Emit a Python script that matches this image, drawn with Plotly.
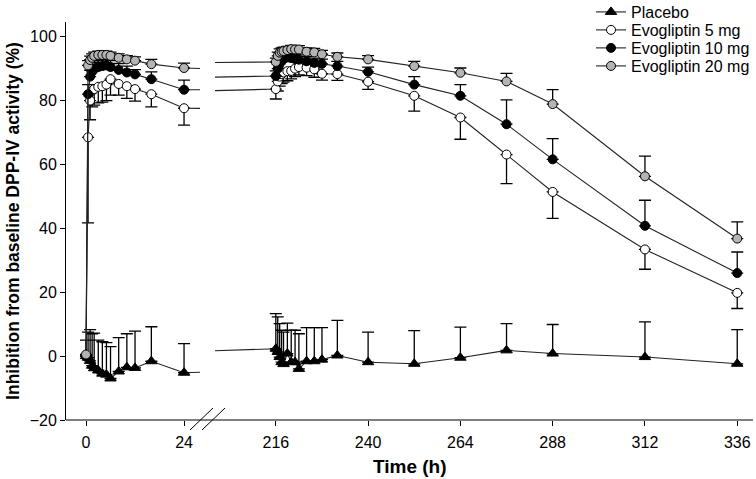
import plotly.graph_objects as go

# ---------------- data ----------------
time_day1 = [0, 0.5, 1, 1.5, 2, 3, 4, 5, 6, 8, 10, 12, 16, 24]
time_day10 = [216, 216.5, 217, 217.5, 218, 219, 220, 221, 222, 224, 226, 228,
              232, 240, 252, 264, 276, 288, 312, 336]
time_h = time_day1 + time_day10

placebo = [0, -0.5, -1.5, -3.0, -3.8, -4.5, -5.5, -5.8, -7.0, -4.8, -3.5, -3.7, -1.6, -5.2,
           2.3, 1.3, -0.3, -1.9, -2.5, 0.8, -1.9, -1.9, -4.0, -1.6, -1.6, -1.1, 0.2, -1.9,
           -2.4, -0.5, 1.8, 0.8, -0.3, -2.4]
placebo_err = [5, 8, 9.8, 10, 11, 9.5, 10, 10, 10, 10.6, 10.5, 11.5, 10.8, 9.1,
               11, 11, 10.5, 10, 10, 9.5, 10, 10, 11, 10.5, 10.5, 10, 11, 9.4,
               10.4, 9.6, 8.4, 9.1, 11, 10.7]

evo5 = [0, 68.5, 80, 83, 83.6, 84.3, 84.5, 85, 86.7, 85.2, 84.5, 83.6, 82.0, 77.6,
        83.6, 86, 87.5, 88.3, 88.8, 89.2, 89.3, 90.0, 90.5, 90.3, 89.8, 88.4, 88.3, 85.9,
        81.5, 74.7, 63.1, 51.4, 33.4, 19.8]
evo5_err = [0, 26.8, 6, 5, 5, 5, 5, 5, 5, 3.5, 3.8, 3.8, 4, 5.3,
            3.1, 3, 3, 3, 3, 3, 2.5, 2.5, 2.5, 2.5, 2.5, 2, 2, 2.4,
            4.8, 6.8, 9.1, 8.3, 6.2, 4.9]

evo10 = [0, 82, 87.5, 89, 90, 90.5, 90.8, 91, 90.5, 89.6, 88.8, 88.2, 86.7, 83.4,
         87.7, 90, 91.5, 92.5, 93, 93.5, 93.3, 93, 92.8, 92.3, 91.8, 91.5, 90.8, 89,
         85, 81.5, 72.6, 61.6, 40.8, 26.0]
evo10_err = [0, 3, 2, 2, 2, 2, 2, 2, 2, 2, 2, 1.5, 2.3, 3.0,
             1.6, 1.5, 1.5, 1.5, 1.5, 1.5, 1.5, 1.5, 1.5, 1.5, 1.5, 1.5, 1.5, 1.5,
             2.5, 3.5, 7.6, 6.5, 8.0, 6.6]

evo20 = [0.5, 91, 92.7, 93.4, 94.0, 94.3, 94.3, 94.3, 94.0, 93.4, 92.9, 92.5, 91.4, 90.2,
         92.1, 94.0, 95.0, 95.3, 95.5, 95.8, 96.1, 96.0, 96.0, 95.3, 95.1, 94.5, 93.7, 92.9,
         90.8, 88.7, 86.0, 78.9, 56.3, 36.8]
evo20_err = [0, 1.5, 1.2, 1.2, 1.2, 1.2, 1.2, 1.2, 1.2, 1.2, 1.2, 1.2, 1.5, 1.5,
             1.2, 1.2, 1.2, 1.2, 1.2, 1.2, 1.2, 1.2, 1.2, 1.2, 1.2, 1.2, 1.2, 1.2,
             1.5, 1.5, 2.5, 4.5, 6.3, 5.2]

series_names = ["Placebo", "Evogliptin 5 mg", "Evogliptin 10 mg", "Evogliptin 20 mg"]
y_ticks = [-20, 0, 20, 40, 60, 80, 100]
x1_ticks = [0, 24]
x2_ticks = [216, 240, 264, 288, 312, 336]

# ---------------- figure ----------------
FONT = "Liberation Sans, Arial, Helvetica, sans-serif"
fig = go.Figure()

styles = [
    dict(y=placebo, err=placebo_err, down=False, symbol="triangle-up", fill="black", size=10),
    dict(y=evo5, err=evo5_err, down=True, symbol="circle", fill="white", size=9),
    dict(y=evo10, err=evo10_err, down=False, symbol="circle", fill="black", size=9),
    dict(y=evo20, err=evo20_err, down=False, symbol="circle", fill="#b4b4b4", size=9),
]
legend_ids = ["legend", "legend2", "legend3", "legend4"]

for name, st, lg in zip(series_names, styles, legend_ids):
    zeros = [0] * len(st["err"])
    if st["down"]:
        ey = dict(type="data", symmetric=False, array=zeros, arrayminus=st["err"],
                  color="black", thickness=1.3, width=6)
    else:
        ey = dict(type="data", symmetric=False, array=st["err"], arrayminus=zeros,
                  color="black", thickness=1.3, width=6)
    for ax, show in (("x", True), ("x2", False)):
        fig.add_trace(go.Scatter(
            x=time_h, y=st["y"], name=name, mode="lines+markers",
            xaxis=ax, yaxis="y", showlegend=show, legend=lg,
            line=dict(color="#222222", width=1.1),
            marker=dict(symbol=st["symbol"], size=st["size"], color=st["fill"],
                        line=dict(color="black", width=1)),
            error_y=ey, cliponaxis=True, hoverinfo="skip",
        ))

D1_END = 0.195
D2_START = 0.217

axis_common = dict(showline=False, ticks="outside", ticklen=5, tickwidth=1,
                   tickcolor="black", showgrid=False, zeroline=False,
                   ticklabelstandoff=3,
                   tickfont=dict(family=FONT, size=16, color="black"))

leg_common = dict(x=0.7642, xanchor="left", yanchor="middle",
                  bgcolor="rgba(0,0,0,0)", font=dict(family=FONT, size=16, color="black"),
                  itemwidth=30)
leg_y = [1.0251, 0.9799, 0.9347, 0.8894]

fig.update_layout(
    width=756, height=479,
    margin=dict(l=66, r=3, t=22, b=59, autoexpand=False),
    plot_bgcolor="white", paper_bgcolor="white",
    font=dict(family=FONT, size=16, color="black"),
    xaxis=dict(domain=[0, D1_END], range=[-4.9, 27.9], tickvals=x1_ticks,
               anchor="y", **axis_common),
    xaxis2=dict(domain=[D2_START, 1], range=[200.2, 340.1], tickvals=x2_ticks,
                anchor="y", **axis_common),
    yaxis=dict(range=[-20, 104.6], tickvals=y_ticks, anchor="x",
               showline=True, linecolor="black", linewidth=1,
               ticks="outside", ticklen=5, tickcolor="black", showgrid=False,
               zeroline=False, tickfont=dict(family=FONT, size=16, color="black"),
               title=dict(text="<b>Inhibition from baseline DPP-IV activity (%)</b>",
                          font=dict(family=FONT, size=17.5), standoff=5)),
    legend=dict(y=leg_y[0], **leg_common),
    legend2=dict(y=leg_y[1], **leg_common),
    legend3=dict(y=leg_y[2], **leg_common),
    legend4=dict(y=leg_y[3], **leg_common),
    showlegend=True,
)

# continuous x axis baseline and break marks
fig.add_shape(type="line", xref="paper", yref="paper", x0=0, x1=1, y0=0, y1=0,
              line=dict(color="black", width=1))
for x0 in (0.1805, 0.198):
    fig.add_shape(type="line", xref="paper", yref="paper",
                  x0=x0, x1=x0 + 0.0335, y0=-0.0251, y1=0.0302,
                  line=dict(color="black", width=1))

fig.add_annotation(text="<b>Time (h)</b>", xref="paper", yref="paper",
                   x=0.5, y=-0.118, xanchor="center", yanchor="middle",
                   showarrow=False, font=dict(family=FONT, size=19, color="black"))

fig.write_html(
    "out.html",
    config={"displayModeBar": False},
    post_script="document.body.style.margin='0';document.body.style.padding='0';"
                "document.documentElement.style.overflow='hidden';",
)
